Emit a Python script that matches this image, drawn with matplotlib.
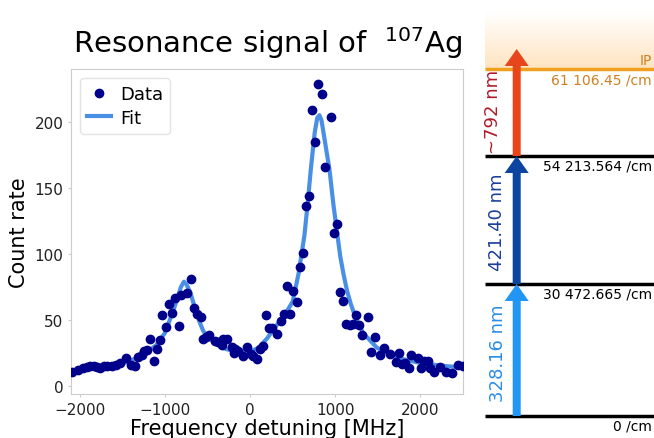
import numpy as np
import matplotlib
matplotlib.use("Agg")
import matplotlib.pyplot as plt
from matplotlib.patches import FancyArrow

# measured resonance data (frequency detuning in MHz, count rate)
freq = [-2086, -2020, -1961, -1914, -1874, -1835, -1796, -1757, -1714, -1679,
        -1616, -1576, -1529, -1459, -1400, -1349, -1310, -1271, -1247, -1208,
        -1176, -1126, -1090, -1059, -1027, -988, -949, -909, -878, -835,
        -804, -738, -686, -659, -620, -580, -549, -518, -478, -412,
        -372, -333, -314, -267, -216, -188, -176, -137, -86, -39,
        8, 39, 78, 118, 157, 188, 220, 259, 322, 361,
        400, 439, 471, 510, 549, 588, 620, 659, 694, 729,
        765, 804, 843, 875, 949, 988, 1020, 1059, 1090, 1129,
        1169, 1208, 1239, 1274, 1314, 1384, 1423, 1463, 1529, 1569,
        1639, 1718, 1753, 1784, 1824, 1863, 1894, 1969, 2008, 2047,
        2086, 2118, 2157, 2227, 2306, 2373, 2439, 2502]
counts = [10.8, 12.1, 13.4, 14.1, 14.9, 15.4, 14.6, 13.4, 15.4, 14.9,
          15.4, 15.9, 17.4, 21.2, 16.2, 14.9, 22.2, 23.5, 26.8, 27.5,
          35.6, 19.2, 28.0, 35.0, 53.8, 44.4, 62.0, 55.0, 67.0, 45.7,
          69.0, 70.5, 81.0, 59.0, 54.5, 52.0, 36.0, 37.0, 39.0, 34.3,
          33.0, 31.0, 36.0, 35.6, 29.3, 25.0, 28.0, 26.8, 22.5, 29.3,
          24.2, 23.0, 20.5, 28.0, 30.0, 53.8, 43.7, 43.7, 39.4, 49.5,
          54.5, 76.0, 54.5, 72.0, 64.0, 90.0, 100.8, 136.6, 143.6, 208.6,
          185.0, 228.8, 221.0, 165.6, 203.5, 116.0, 122.7, 71.0, 64.6, 47.0,
          46.5, 47.0, 53.8, 46.5, 38.6, 52.5, 26.0, 36.8, 23.5, 28.5,
          24.2, 18.4, 25.0, 16.7, 17.4, 13.4, 23.5, 21.0, 13.4, 19.2,
          19.2, 13.4, 10.8, 14.1, 10.8, 9.8, 15.9, 14.9]

# fit curve
fit_freq = [-2100, -1800, -1600, -1450, -1300, -1200, -1100, -1000, -900, -850,
            -810, -775, -745, -700, -650, -600, -550, -500, -400, -300,
            -200, -100, 0, 100, 200, 300, 400, 502, 570, 639,
            680, 714, 760, 790, 815, 840, 880, 933, 980, 1027,
            1060, 1100, 1140, 1184, 1250, 1330, 1490, 1720, 1960, 2230, 2500]
fit_counts = [11.5, 13.5, 15.0, 18.0, 22.0, 26.0, 31.0, 40.0, 57.0, 67.0,
              75.0, 79.0, 77.0, 71.0, 60.0, 50.0, 42.0, 37.0, 32.0, 28.5,
              26.5, 25.5, 26.0, 29.0, 36.0, 45.0, 53.0, 64.0, 85.0, 114.0,
              140.0, 164.0, 192.0, 203.0, 205.0, 201.0, 185.0, 164.0, 137.0, 114.0,
              98.0, 84.0, 72.0, 62.0, 50.0, 40.0, 29.0, 21.5, 18.0, 15.5, 14.0]

# level scheme
level_labels = ["0 /cm", "30 472.665 /cm", "54 213.564 /cm"]
ip_label = "61 106.45 /cm"
wavelengths = ["328.16 nm", "421.40 nm", "~792 nm"]

W, H = 654, 439
fig = plt.figure(figsize=(W / 100, H / 100), dpi=100)

ax = fig.add_axes([71 / W, 1 - 395 / H, (463 - 71) / W, (395 - 70) / H])
ax.plot(freq, counts, 'o', color='#00008b', markersize=6, label='Data', zorder=3)
ax.plot(fit_freq, fit_counts, '-', color='#4a8fe6', linewidth=3, label='Fit', zorder=2)
ax.set_xlim(-2100, 2500)
ax.set_ylim(-6, 240)
ax.set_xticks([-2000, -1000, 0, 1000, 2000])
ax.set_yticks([0, 50, 100, 150, 200])
ax.tick_params(labelsize=11, length=2, color='#cccccc', labelcolor='#222222')
for s in ax.spines.values():
    s.set_color('#cccccc')
ax.set_xlabel('Frequency detuning [MHz]', fontsize=15, labelpad=1)
ax.set_ylabel('Count rate', fontsize=15)
ax.set_title(r'Resonance signal of  $^{107}$Ag', fontsize=21, pad=12)
leg = ax.legend(loc='upper left', fontsize=13, handlelength=1.3, handletextpad=0.5,
                borderpad=0.4, labelspacing=0.3, markerscale=1.0)
leg.get_frame().set_edgecolor('#dddddd')

# level diagram, drawn in pixel-like coordinates
ax2 = fig.add_axes([470 / W, 0, (W - 470) / W, 1])
ax2.set_xlim(470, W)
ax2.set_ylim(H, 0)
ax2.axis('off')

level_y = [417, 285, 157]
ip_y = 70
x0, x1 = 485, W
xa = 516.7

# continuum above IP
grad = np.zeros((60, 2, 4))
grad[..., 0] = 1.0
grad[..., 1] = 0.72
grad[..., 2] = 0.35
grad[..., 3] = np.linspace(0.0, 0.38, 60)[:, None]
ax2.imshow(grad, extent=[x0, x1, ip_y, 12], aspect='auto', interpolation='bilinear', zorder=0)

for yl, lab in zip(level_y, level_labels):
    ax2.plot([x0, x1], [yl, yl], color='black', linewidth=2.5, solid_capstyle='butt')
    ax2.text(652, yl + 3, lab, ha='right', va='top', fontsize=10)
ax2.plot([x0, x1], [ip_y, ip_y], color='#f0a020', linewidth=2.5, solid_capstyle='butt')
ax2.text(652, ip_y - 2, 'IP', ha='right', va='bottom', fontsize=10, color='#d08020')
ax2.text(652, ip_y + 3, ip_label, ha='right', va='top', fontsize=10, color='#d08020')

arrow_cols = ['#2196f5', '#0b45a0', '#e8451c']
text_cols = ['#2a8de8', '#1a3f9c', '#b01a2a']
starts = [417, 285, 157]
ends = [285, 157, 50]
text_pos = [(498, 353), (497, 222), (493, 112)]
for ys, ye, ac, tc, wl, (tx, ty) in zip(starts, ends, arrow_cols, text_cols, wavelengths, text_pos):
    ax2.add_patch(FancyArrow(xa, ys, 0, ye - ys, width=8, head_width=24, head_length=17,
                             length_includes_head=True, color=ac, linewidth=0, zorder=3))
    ax2.text(tx, ty, wl, rotation=90, ha='center', va='center', fontsize=13, color=tc)

fig.savefig('out.png', dpi=100)
